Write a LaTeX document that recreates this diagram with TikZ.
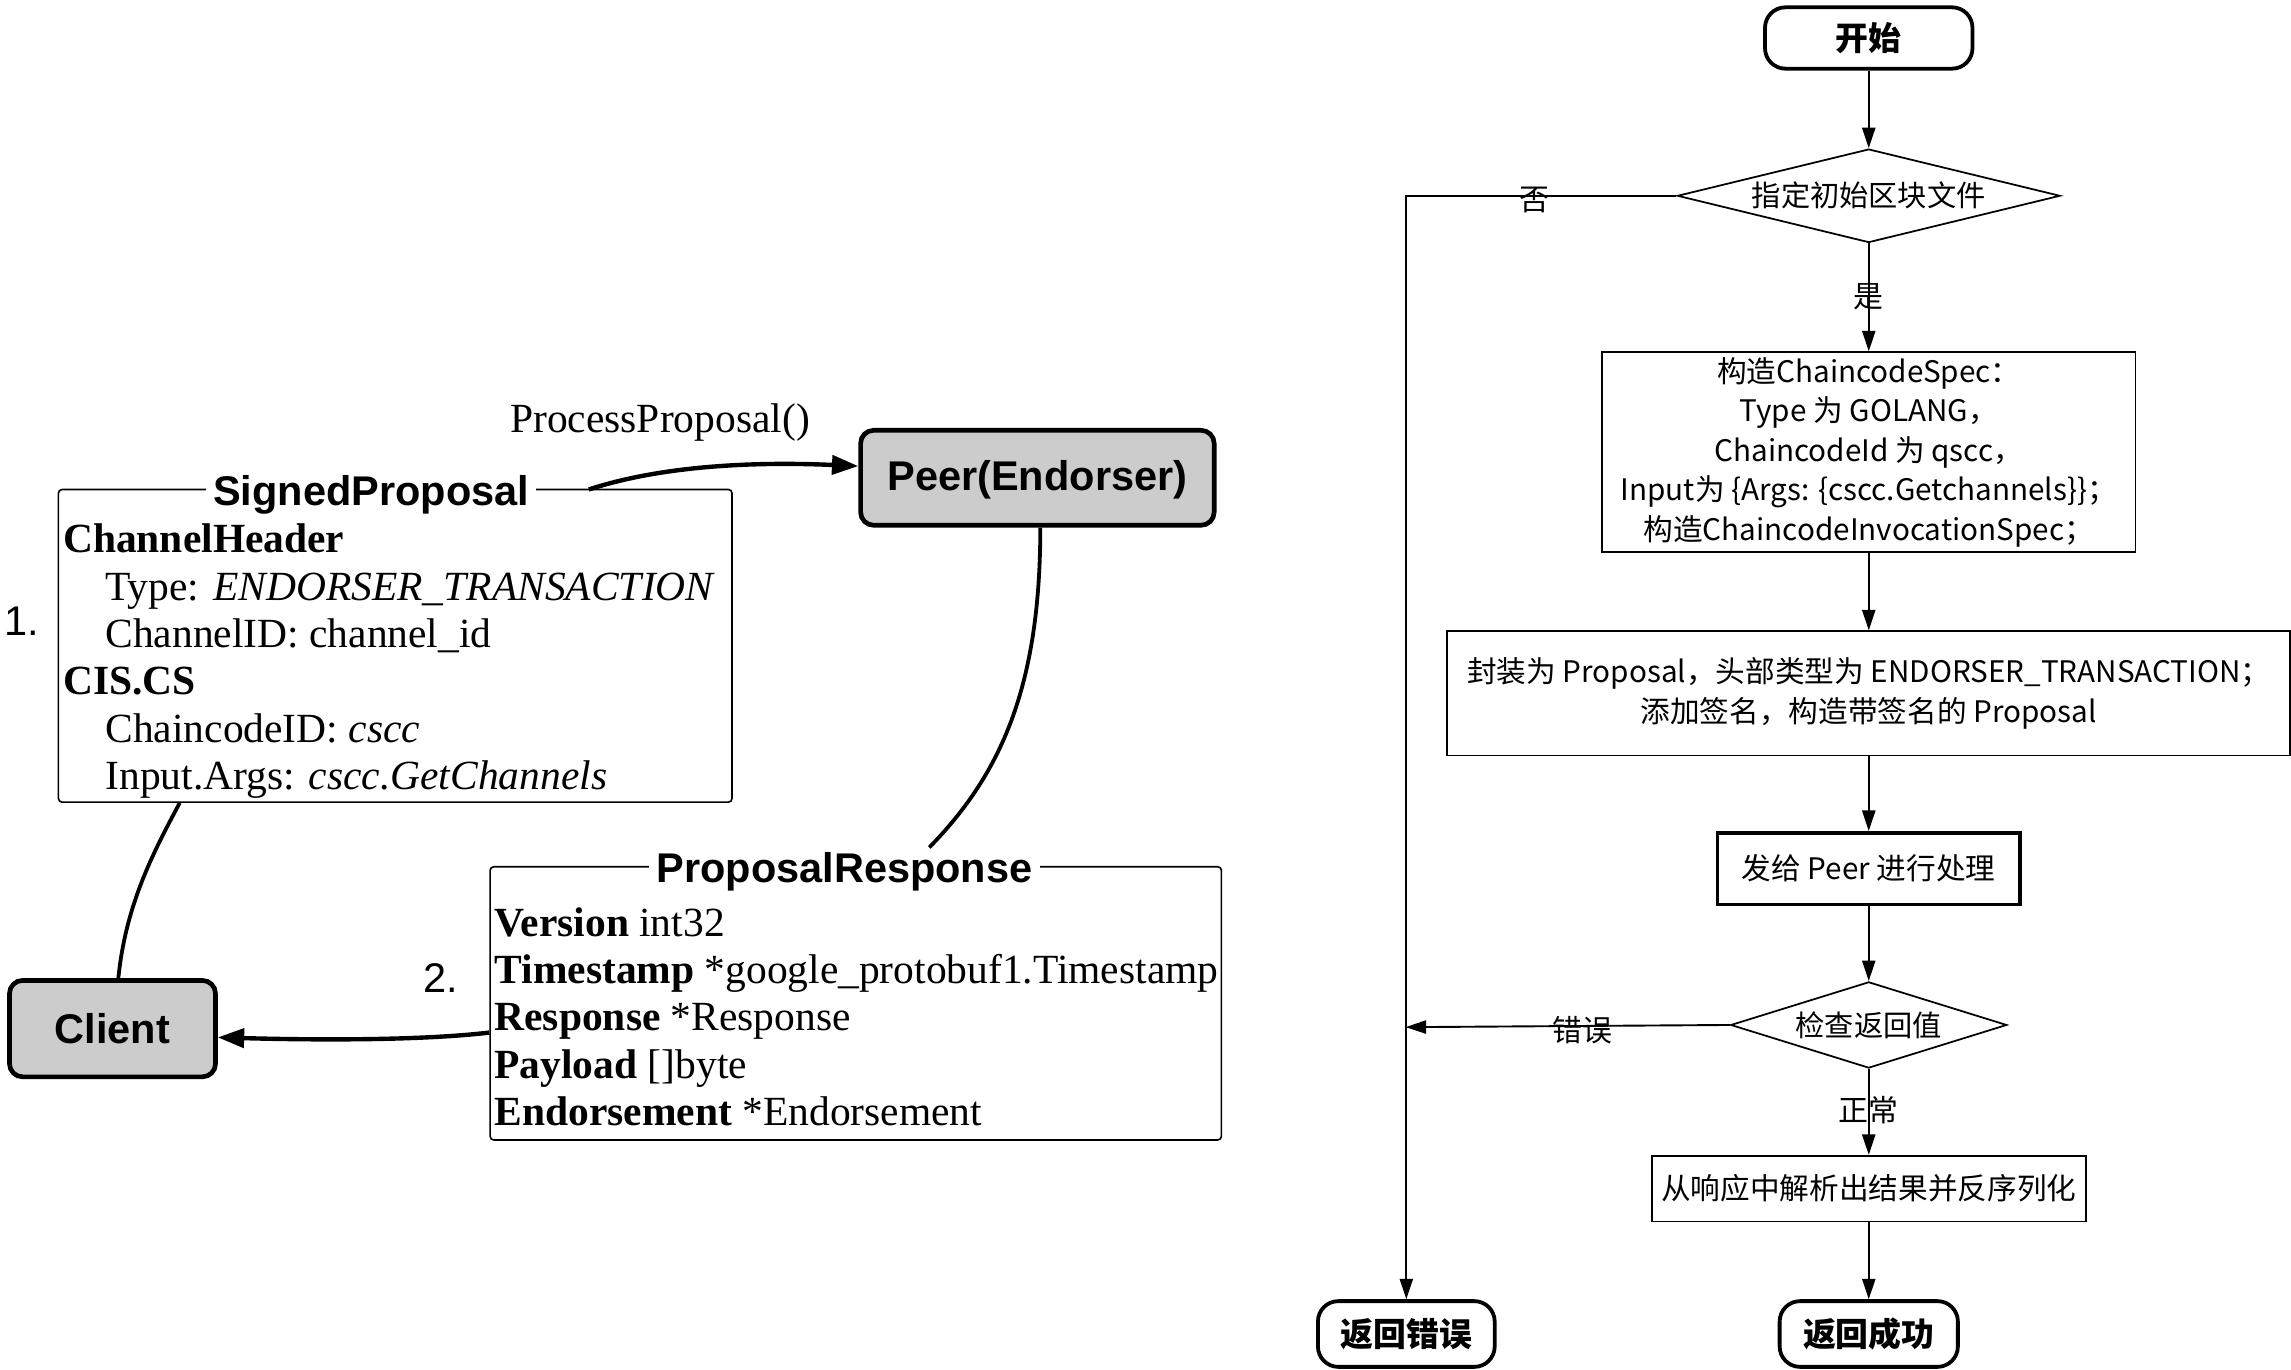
\documentclass[tikz,border=0pt]{standalone}
\usepackage{fontspec}
\setmainfont{Liberation Serif}
\newfontfamily\arialf{Liberation Sans}
\newfontfamily\cjk{Noto Sans CJK SC}
\usetikzlibrary{arrows.meta,shapes.geometric}
\definecolor{gboxfill}{HTML}{CCCCCC}
\tikzset{
 actor/.style={draw, line width=3.2pt, rounded corners=9pt, fill=gboxfill, font=\arialf\bfseries\fontsize{28.4}{30}\selectfont, inner sep=0pt},
 fieldbox/.style={draw, line width=1.1pt, rounded corners=2.5pt, inner sep=0pt},
 fieldtitle/.style={fill=white, inner xsep=5pt, inner ysep=2pt, font=\arialf\bfseries\fontsize{28.4}{30}\selectfont},
 fieldline/.style={anchor=base west, inner sep=0pt, font=\fontsize{28.4}{32}\selectfont},
 numlbl/.style={anchor=base west, inner sep=0pt, font=\arialf\fontsize{28.4}{30}\selectfont},
 link/.style={line width=2.6pt},
 linkarrow/.style={line width=3pt, -{Triangle[length=18pt,width=13pt]}},
 term/.style={draw, line width=2.6pt, rounded corners=14pt, font=\cjk\bfseries\fontsize{22.5}{26}\selectfont, inner sep=0pt},
 procbox/.style={draw, line width=1.2pt, font=\cjk\fontsize{20.3}{27}\selectfont, align=center, inner sep=0pt},
 decision/.style={draw, line width=1.2pt, shape=diamond, inner sep=0pt, font=\cjk\fontsize{20}{24}\selectfont},
 flow/.style={line width=1.3pt, -{Triangle[length=14pt,width=9pt]}},
 flowlabel/.style={font=\cjk\fontsize{20.5}{24}\selectfont, inner sep=0pt},
}
\begin{document}
\begin{tikzpicture}[x=1pt,y=-1pt]
\useasboundingbox (0,0) rectangle (1568,937.6);

% ---------- left diagram ----------
\node[actor, text depth=3pt, minimum width=242pt, minimum height=65pt] (peer) at (710,327) {Peer(Endorser)};
\node[actor, minimum width=141pt, minimum height=66pt] (client) at (77,704) {Client};

\node[fieldbox, minimum width=461pt, minimum height=214pt] (sp) at (270.5,442) {};
\node[fieldtitle, anchor=base] (spt) at (254,346) {SignedProposal};
\node[fieldline] (sp1) at (43,378.3) {\bfseries ChannelHeader};
\node[fieldline] (sp2) at (72,410.7) {Type: \textit{ENDORSER\_TRANSACTION}};
\node[fieldline] (sp3) at (72,443.1) {ChannelID: channel\_id};
\node[fieldline] (sp4) at (43,475.5) {\bfseries CIS.CS};
\node[fieldline] (sp5) at (72,507.9) {ChaincodeID: \textit{cscc}};
\node[fieldline] (sp6) at (72,540.3) {Input.Args: \textit{cscc.GetChannels}};
\node[numlbl] (n1) at (3,435) {1.};

\node[fieldbox, minimum width=500.5pt, minimum height=187pt] (pr) at (585.7,686.7) {};
\node[fieldtitle, anchor=base] (prt) at (578,604) {ProposalResponse};
\node[fieldline] (pr1) at (338.3,641.1) {\textbf{Version} int32};
\node[fieldline] (pr2) at (338.3,673.3) {\textbf{Timestamp} *google\_protobuf1.Timestamp};
\node[fieldline] (pr3) at (338.3,705.6) {\textbf{Response} *Response};
\node[fieldline] (pr4) at (338.3,737.9) {\textbf{Payload} []byte};
\node[fieldline] (pr5) at (338.3,770.2) {\textbf{Endorsement} *Endorsement};
\node[numlbl] (n2) at (289.6,679) {2.};

\node[fieldline] (pp) at (349,296) {ProcessProposal()};

\coordinate (a1) at (403,335);
\draw[linkarrow] (a1) .. controls (455,318) and (520,316) .. ([yshift=8pt]peer.west);
\coordinate (a3) at (636,580);
\draw[link] ([xshift=2pt]peer.south) .. controls (712,470) and (685,530) .. (a3);
\coordinate (a4) at (123,549.5);
\draw[link] ([xshift=4pt]client.north) .. controls (86,620) and (104,585) .. (a4);
\draw[linkarrow] ([yshift=-20pt]pr.west) .. controls (290,712) and (220,712) .. ([yshift=-6pt]client.east);

% ---------- flowchart ----------
\node[term, minimum width=142pt, minimum height=42pt] (start) at (1279,26) {开始};
\node[decision, aspect=4.1, minimum width=262pt, minimum height=64pt] (d1) at (1279,134) {指定初始区块文件};
\node[procbox, minimum width=365pt, minimum height=137pt] (b1) at (1279,309.5)
 {构造ChaincodeSpec：\\Type 为 GOLANG，\\ChaincodeId 为 qscc，\\Input为 \{Args: \{cscc.Getchannels\}\}；\\构造ChaincodeInvocationSpec；};
\node[procbox, minimum width=577pt, minimum height=85pt] (b2) at (1279,474.5)
 {封装为 Proposal，头部类型为 ENDORSER\_TRANSACTION；\\添加签名，构造带签名的 Proposal};
\node[procbox, line width=2.6pt, minimum width=207pt, minimum height=49pt] (b3) at (1279,594.5) {发给 Peer 进行处理};
\node[decision, aspect=3.2, minimum width=189pt, minimum height=59pt] (d2) at (1279,701.5) {检查返回值};
\node[procbox, minimum width=297pt, minimum height=45pt] (b4) at (1279,813.5) {从响应中解析出结果并反序列化};
\node[term, minimum width=121pt, minimum height=45pt] (rerr) at (962.5,913) {返回错误};
\node[term, minimum width=122pt, minimum height=45pt] (rok) at (1279,913) {返回成功};

\draw[flow] (start) -- (d1);
\draw[flow] (d1) -- (b1);
\draw[flow] (b1) -- (b2);
\draw[flow] (b2) -- (b3);
\draw[flow] (b3) -- (d2);
\draw[flow] (d2) -- (b4);
\draw[flow] (b4) -- (rok);
\draw[flow] (d1.west) -| (rerr.north);
\coordinate (c2) at (962,703);
\draw[flow] (d2.west) -- (c2);

\node[flowlabel] (lno) at (1050,137) {否};
\node[flowlabel] (lyes) at (1279,203) {是};
\node[flowlabel] (lerr) at (1083,705) {错误};
\node[flowlabel] (lok) at (1279,760) {正常};
\end{tikzpicture}
\end{document}
